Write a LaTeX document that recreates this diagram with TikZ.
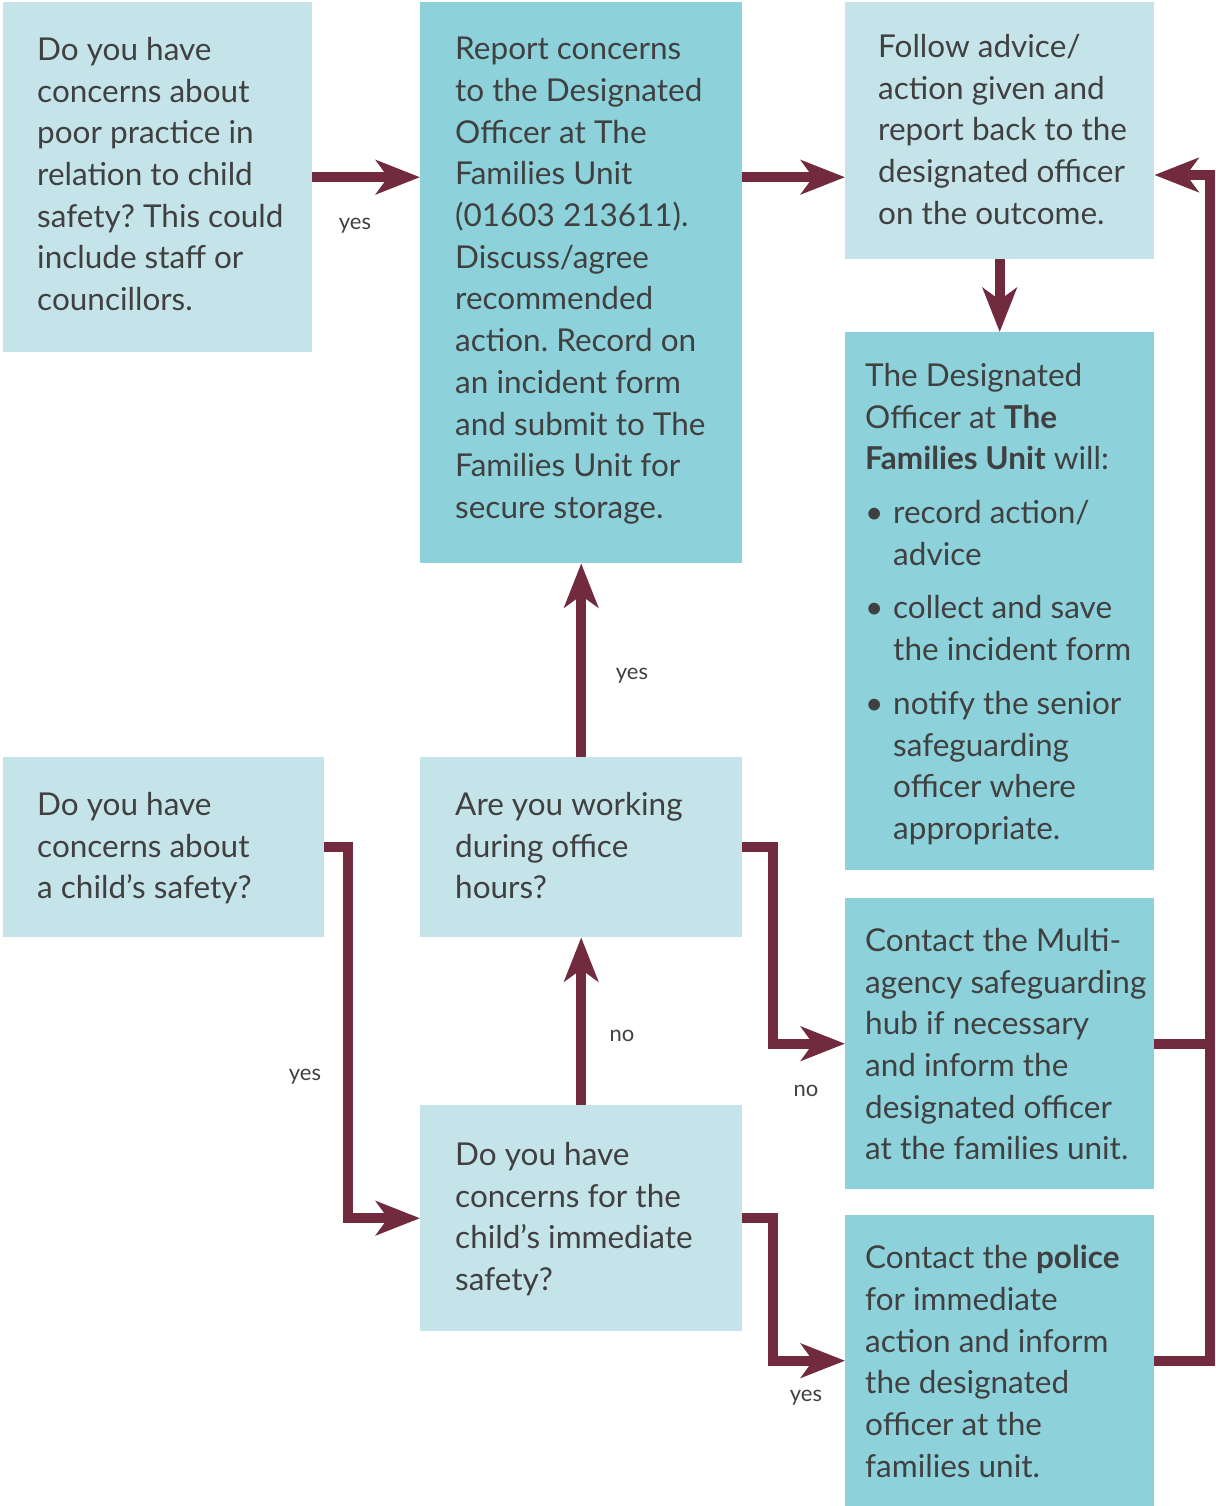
\documentclass[tikz,border=0pt]{standalone}
\usepackage{fontspec}
\setmainfont{Lato}
\frenchspacing
\usetikzlibrary{arrows.meta,positioning}

\definecolor{boxlight}{HTML}{C5E4E9}
\definecolor{boxdark}{HTML}{8DD1DA}
\definecolor{wine}{HTML}{722B3E}
\definecolor{ink}{HTML}{404040}

\newcommand{\itm}{\makebox[28pt][l]{\textbullet}}
\newcommand{\ind}{\hspace*{28pt}}

\tikzset{
  lightbox/.style={fill=boxlight, inner sep=0pt, anchor=north west},
  darkbox/.style={fill=boxdark, inner sep=0pt, anchor=north west},
  txt/.style={anchor=north west, align=left, inner sep=0pt, text=ink,
    font=\fontsize{31.5}{41.7}\selectfont},
  lbl/.style={text=ink, inner sep=0pt, font=\fontsize{22}{26}\selectfont},
  link/.style={draw=wine, line width=10pt},
  flow/.style={link, -{Stealth[length=44pt, width=34pt, inset=12pt]}},
}

\begin{document}
\begin{tikzpicture}[x=1pt, y=1pt]
\useasboundingbox (0,0) rectangle (1215,-1506);

% boxes
\node[lightbox, minimum width=309pt, minimum height=350pt] (q1) at (3,-2) {};
\node[darkbox, minimum width=322pt, minimum height=561pt] (q2) at (420,-2) {};
\node[lightbox, minimum width=309pt, minimum height=257pt] (q3) at (845,-2) {};
\node[darkbox, minimum width=309pt, minimum height=538pt] (q4) at (845,-332) {};
\node[lightbox, minimum width=321pt, minimum height=180pt] (q5) at (3,-757) {};
\node[lightbox, minimum width=322pt, minimum height=180pt] (q6) at (420,-757) {};
\node[lightbox, minimum width=322pt, minimum height=226pt] (q7) at (420,-1105) {};
\node[darkbox, minimum width=309pt, minimum height=291pt] (q8) at (845,-898) {};
\node[darkbox, minimum width=309pt, minimum height=291pt] (q9) at (845,-1215) {};

% texts
\node[txt, xshift=34pt, yshift=-35pt] (t1) at (q1.north west)
  {Do you have\\concerns about\\poor practice in\\relation to child\\safety? This could\\include staff or\\councillors.};
\node[txt, xshift=35pt, yshift=-35pt] (t2) at (q2.north west)
  {Report concerns\\to the Designated\\Officer at The\\Families Unit\\(01603 213611).\\Discuss/agree\\recommended\\action. Record on\\an incident form\\and submit to The\\Families Unit for\\secure storage.};
\node[txt, xshift=33pt, yshift=-32pt] (t3) at (q3.north west)
  {Follow advice/\\action given and\\report back to the\\designated officer\\on the outcome.};
\node[txt, xshift=20pt, yshift=-31pt] (t4) at (q4.north west)
  {The Designated\\Officer at \textbf{The}\\\textbf{Families Unit} will:\\[12pt]
   \itm record action/\\\ind advice\\[12pt]
   \itm collect and save\\\ind the incident form\\[12pt]
   \itm notify the senior\\\ind safeguarding\\\ind officer where\\\ind appropriate.};
\node[txt, xshift=34pt, yshift=-35pt] (t5) at (q5.north west)
  {Do you have\\concerns about\\a child’s safety?};
\node[txt, xshift=35pt, yshift=-35pt] (t6) at (q6.north west)
  {Are you working\\during office\\hours?};
\node[txt, xshift=35pt, yshift=-37pt] (t7) at (q7.north west)
  {Do you have\\concerns for the\\child’s immediate\\safety?};
\node[txt, xshift=20pt, yshift=-30pt] (t8) at (q8.north west)
  {Contact the Multi-\\agency safeguarding\\hub if necessary\\and inform the\\designated officer\\at the families unit.};
\node[txt, xshift=20pt, yshift=-30pt] (t9) at (q9.north west)
  {Contact the \textbf{police}\\for immediate\\action and inform\\the designated\\officer at the\\families unit.};

% connectors
\coordinate (rail) at (1210,-175);
\draw[flow] (q1.east) -- (q1.east -| q2.west);
\draw[flow] (q2.east |- q1.east) -- (q3.west |- q1.east);
\draw[flow] (q3.south) -- (q4.north);
\draw[flow] (q6.north) -- (q2.south);
\draw[flow] (q7.north) -- (q6.south);
\draw[flow] (q5.east) -- ++(24,0) |- (q7.west);
\draw[flow] (q6.east) -- ++(31,0) |- (q8.west);
\draw[flow] (q7.east) -- ++(31,0) |- (q9.west);
\draw[link] (q8.east) -- (q8.east -| rail);
\draw[flow] (q9.east) -| (rail) -- (q3.east |- rail);

% labels
\node[lbl] (y1) at (355,-226) {yes};
\node[lbl] (y2) at (632,-676) {yes};
\node[lbl] (y3) at (305,-1077) {yes};
\node[lbl] (y4) at (806,-1398) {yes};
\node[lbl] (n1) at (622,-1036) {no};
\node[lbl] (n2) at (806,-1091) {no};
\end{tikzpicture}
\end{document}
